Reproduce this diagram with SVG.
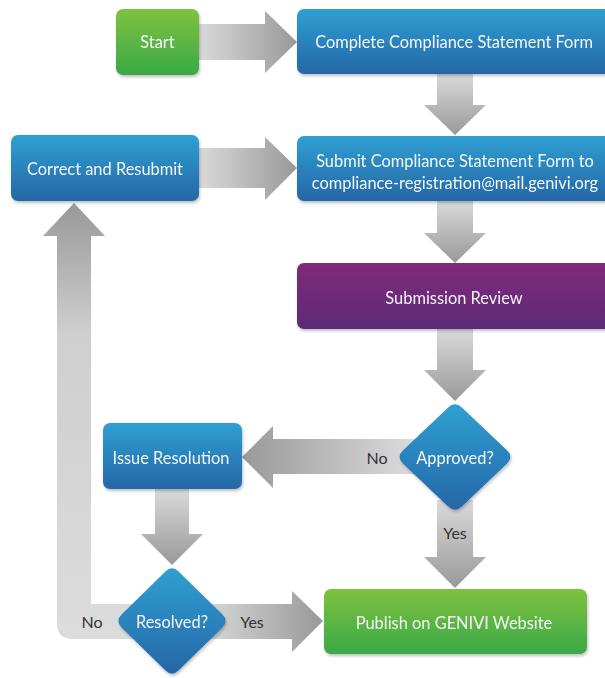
<svg xmlns="http://www.w3.org/2000/svg" width="605" height="678" viewBox="0 0 605 678">
<style>
.t{font-family:Lato,"Open Sans","Liberation Sans",sans-serif;font-size:16.4px;fill:#f4f6f8;text-anchor:middle;dominant-baseline:central}
.l{font-family:Lato,"Open Sans","Liberation Sans",sans-serif;font-size:16px;fill:#333;text-anchor:middle;dominant-baseline:central}
.box{filter:url(#sh)}
</style>
<defs>
<linearGradient id="gGreen" x1="0" y1="0" x2="0" y2="1"><stop offset="0" stop-color="#80c141"/><stop offset="1" stop-color="#3aa946"/></linearGradient>
<linearGradient id="gBlue" x1="0" y1="0" x2="0" y2="1"><stop offset="0" stop-color="#2fa0d3"/><stop offset="1" stop-color="#2566a6"/></linearGradient>
<linearGradient id="gPurple" x1="0" y1="0" x2="0" y2="1"><stop offset="0" stop-color="#812a7b"/><stop offset="1" stop-color="#5c2977"/></linearGradient>
<linearGradient id="gR" x1="0" y1="0" x2="1" y2="0"><stop offset="0" stop-color="#dadada"/><stop offset="1" stop-color="#999"/></linearGradient>
<linearGradient id="gL" x1="1" y1="0" x2="0" y2="0"><stop offset="0" stop-color="#dedede"/><stop offset="1" stop-color="#999"/></linearGradient>
<linearGradient id="gD" x1="0" y1="0" x2="0" y2="1"><stop offset="0" stop-color="#dadada"/><stop offset="1" stop-color="#999"/></linearGradient>
<linearGradient id="gU" gradientUnits="userSpaceOnUse" x1="0" y1="640" x2="0" y2="203"><stop offset="0" stop-color="#dcdcdc"/><stop offset="0.7" stop-color="#cfcfcf"/><stop offset="1" stop-color="#999"/></linearGradient>
<filter id="sh" x="-10%" y="-10%" width="120%" height="130%"><feDropShadow dx="1" dy="2" stdDeviation="1.5" flood-color="#000" flood-opacity="0.25"/></filter>
</defs>

<g id="connectors">
<polygon points="199,24 265,24 265,11 297,42 265,73 265,60 199,60" fill="url(#gR)"/>
<polygon points="437,74 473,74 473,105 486,105 455,135 424,105 437,105" fill="url(#gD)"/>
<polygon points="199,148 265,148 265,137 297,168 265,200 265,188 199,188" fill="url(#gR)"/>
<polygon points="437,201 473,201 473,233 486,233 455,263 424,233 437,233" fill="url(#gD)"/>
<polygon points="437,329 473,329 473,370 486,370 455,401 424,370 437,370" fill="url(#gD)"/>
<polygon points="420,439 273,439 273,426 242,457 273,488 273,474 420,474" fill="url(#gL)"/>
<polygon points="155,489 189,489 189,534 203,534 172,565 141,534 155,534" fill="url(#gD)"/>
<polygon points="200,604 292,604 292,591 323,621 292,652 292,639 200,639" fill="url(#gR)"/>
<polygon points="437,500 473,500 473,557 486,557 455,588 424,557 437,557" fill="url(#gD)"/>
<path d="M140,604 L91,604 L91,236 L105,236 L74,203 L43,236 L57,236 L57,623 Q57,639 73,639 L140,639 Z" fill="url(#gU)"/>
<text class="l" x="377" y="457">No</text>
<text class="l" x="455" y="532">Yes</text>
<text class="l" x="92" y="621">No</text>
<text class="l" x="252" y="621">Yes</text>
</g>

<g id="start" class="box"><rect x="116" y="9" width="83" height="66" rx="7" fill="url(#gGreen)"/><text class="t" x="157.5" y="41">Start</text></g>
<g id="complete" class="box"><rect x="297" y="9" width="318" height="65" rx="7" fill="url(#gBlue)"/><text class="t" x="454" y="41">Complete Compliance Statement Form</text></g>
<g id="correct" class="box"><rect x="11" y="135" width="188" height="66" rx="7" fill="url(#gBlue)"/><text class="t" x="105" y="168">Correct and Resubmit</text></g>
<g id="submit" class="box"><rect x="297" y="136" width="318" height="65" rx="7" fill="url(#gBlue)"/><text class="t" x="455" y="160">Submit Compliance Statement Form to</text><text class="t" x="455" y="182">compliance-registration@mail.genivi.org</text></g>
<g id="review" class="box"><rect x="297" y="263" width="318" height="66" rx="7" fill="url(#gPurple)"/><text class="t" x="454" y="297">Submission Review</text></g>
<g id="approved" class="box"><path d="M462.1,407.7 L506.9,450.3 Q514,457 506.9,463.7 L462.1,506.3 Q455,513 447.9,506.3 L403.1,463.7 Q396,457 403.1,450.3 L447.9,407.7 Q455,401 462.1,407.7 Z" fill="url(#gBlue)"/><text class="t" x="455" y="457">Approved?</text></g>
<g id="issue" class="box"><rect x="103" y="423" width="139" height="66" rx="7" fill="url(#gBlue)"/><text class="t" x="171" y="457">Issue Resolution</text></g>
<g id="resolved" class="box"><path d="M178.8,571.7 L222.2,614.3 Q229,621 222.2,627.7 L178.8,670.3 Q172,677 165.2,670.3 L121.8,627.7 Q115,621 121.8,614.3 L165.2,571.7 Q172,565 178.8,571.7 Z" fill="url(#gBlue)"/><text class="t" x="172" y="621">Resolved?</text></g>
<g id="publish" class="box"><rect x="324" y="589" width="263" height="65" rx="7" fill="url(#gGreen)"/><text class="t" x="454" y="622">Publish on GENIVI Website</text></g>
</svg>
